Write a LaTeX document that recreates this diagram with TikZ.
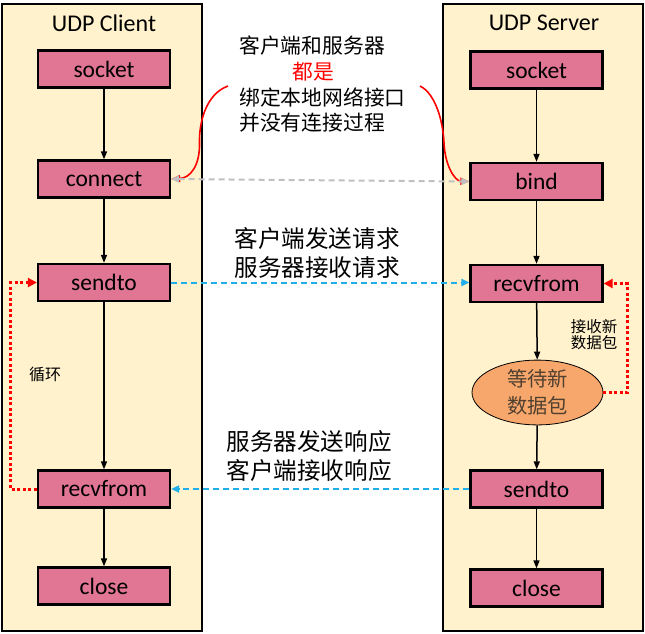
\documentclass[tikz,border=0pt]{standalone}
\usepackage{fontspec}
\setmainfont{Carlito}
\newfontfamily\cjk{Noto Sans CJK SC}
\usetikzlibrary{arrows.meta,shapes.geometric,calc}
\definecolor{panelyellow}{RGB}{255,242,204}
\definecolor{boxpink}{RGB}{224,117,148}
\definecolor{waitorange}{RGB}{248,167,108}
\definecolor{msgblue}{RGB}{31,174,232}
\definecolor{linkgray}{RGB}{192,192,192}
\definecolor{waittext}{RGB}{80,64,47}
\begin{document}
\begin{tikzpicture}[x=1pt,y=-1pt,
  panel/.style={draw=black, line width=2pt, fill=panelyellow, minimum width=200pt, minimum height=627pt, inner sep=0pt},
  title/.style={font=\fontsize{24}{28}\selectfont},
  fbox/.style={draw=black, line width=2.3pt, fill=boxpink, minimum width=132pt, minimum height=37pt, inner sep=0pt, font=\fontsize{23.5}{26}\selectfont},
  waitnode/.style={ellipse, draw=black, line width=0.8pt, fill=waitorange, minimum width=131pt, minimum height=61pt, inner sep=0pt, align=center, text=waittext, font=\cjk\fontsize{20.3}{27}\selectfont},
  flow/.style={-{Triangle[length=8pt,width=6pt]}, line width=1.5pt},
  note/.style={align=left, font=\cjk\fontsize{23.6}{29}\selectfont, inner sep=0pt},
  msg/.style={draw=msgblue, line width=2pt, dash pattern=on 6pt off 4pt, -{Triangle[length=8pt,width=7pt]}},
  loopline/.style={draw=red, line width=3pt, dash pattern=on 3pt off 2.5pt, -{Triangle[length=9pt,width=9pt]}},
  redcurve/.style={draw=red, line width=1.6pt, -{Triangle[length=9pt,width=7pt]}}
]
\useasboundingbox (0,0) rectangle (645,633);

% panels
\node[panel] (cpanel) at (102,317.5) {};
\node[panel] (spanel) at (543,317.5) {};
\node[title] (ctitle) at (104,23) {UDP Client};
\node[title] (stitle) at (544,23) {UDP Server};

% client nodes
\node[fbox] (csock) at (104,69) {socket};
\node[fbox] (cconn) at (104,179) {connect};
\node[fbox] (csend) at (104,282.5) {sendto};
\node[fbox] (crecv) at (104,489) {recvfrom};
\node[fbox] (cclose) at (104,586) {close};

% server nodes
\node[fbox] (ssock) at (536.5,70) {socket};
\node[fbox] (sbind) at (536.5,181.5) {bind};
\node[fbox] (srecv) at (536.5,283.5) {recvfrom};
\node[waitnode] (swait) at (537.5,392.5) {等待新\\数据包};
\node[fbox] (ssend) at (536.5,489) {sendto};
\node[fbox] (sclose) at (536.5,588) {close};

% flows
\draw[flow] (csock) -- (cconn);
\draw[flow] (cconn) -- (csend);
\draw[flow] (csend) -- (crecv);
\draw[flow] (crecv) -- (cclose);
\draw[flow] (ssock) -- (sbind);
\draw[flow] (sbind) -- (srecv);
\draw[flow] (srecv) -- (swait);
\draw[flow] (swait) -- (ssend);
\draw[flow] (ssend) -- (sclose);

% top note
\node[inner sep=0pt, anchor=north west, align=left, font=\cjk\fontsize{20.8}{25.7}\selectfont] (topnote) at (239,36)
  {客户端和服务器\\\hspace*{53pt}\textcolor{red}{都是}\\绑定本地网络接口\\并没有连接过程};
\coordinate (lstart) at (228,86);
\coordinate (rstart) at (420,86);
\draw[redcurve] (lstart) .. controls (206,94) and (199,122) .. (199.5,143) .. controls (200,166) and (190,178) .. (cconn.east);
\draw[redcurve] (rstart) .. controls (436,94) and (443,122) .. (444,143) .. controls (445,166) and (455,181) .. (sbind.west);
\draw[linkgray, line width=2pt, dash pattern=on 6pt off 4pt, {Triangle[length=8pt,width=7pt]}-{Triangle[length=8pt,width=7pt]}] (cconn.east) -- (sbind.west);

% messages
\node[note, align=center] (reqnote) at (317,252.5) {客户端发送请求\\服务器接收请求};
\node[note, align=center] (respnote) at (309,456) {服务器发送响应\\客户端接收响应};
\draw[msg] (csend.east) -- (srecv.west |- csend.east);
\draw[msg] (ssend.west) -- (crecv.east);

% loops
\draw[loopline] (crecv.west) -- ++(-26,0) |- (csend.west);
\node[font=\cjk\fontsize{16}{18}\selectfont, inner sep=0pt] (loopnote) at (45,374) {循环};
\draw[loopline] (swait.east) -- ++(24,0) |- (srecv.east);
\node[font=\cjk\fontsize{15.5}{16}\selectfont, align=center, inner sep=0pt] (recvnote) at (594,335) {接收新\\数据包};
\end{tikzpicture}
\end{document}
